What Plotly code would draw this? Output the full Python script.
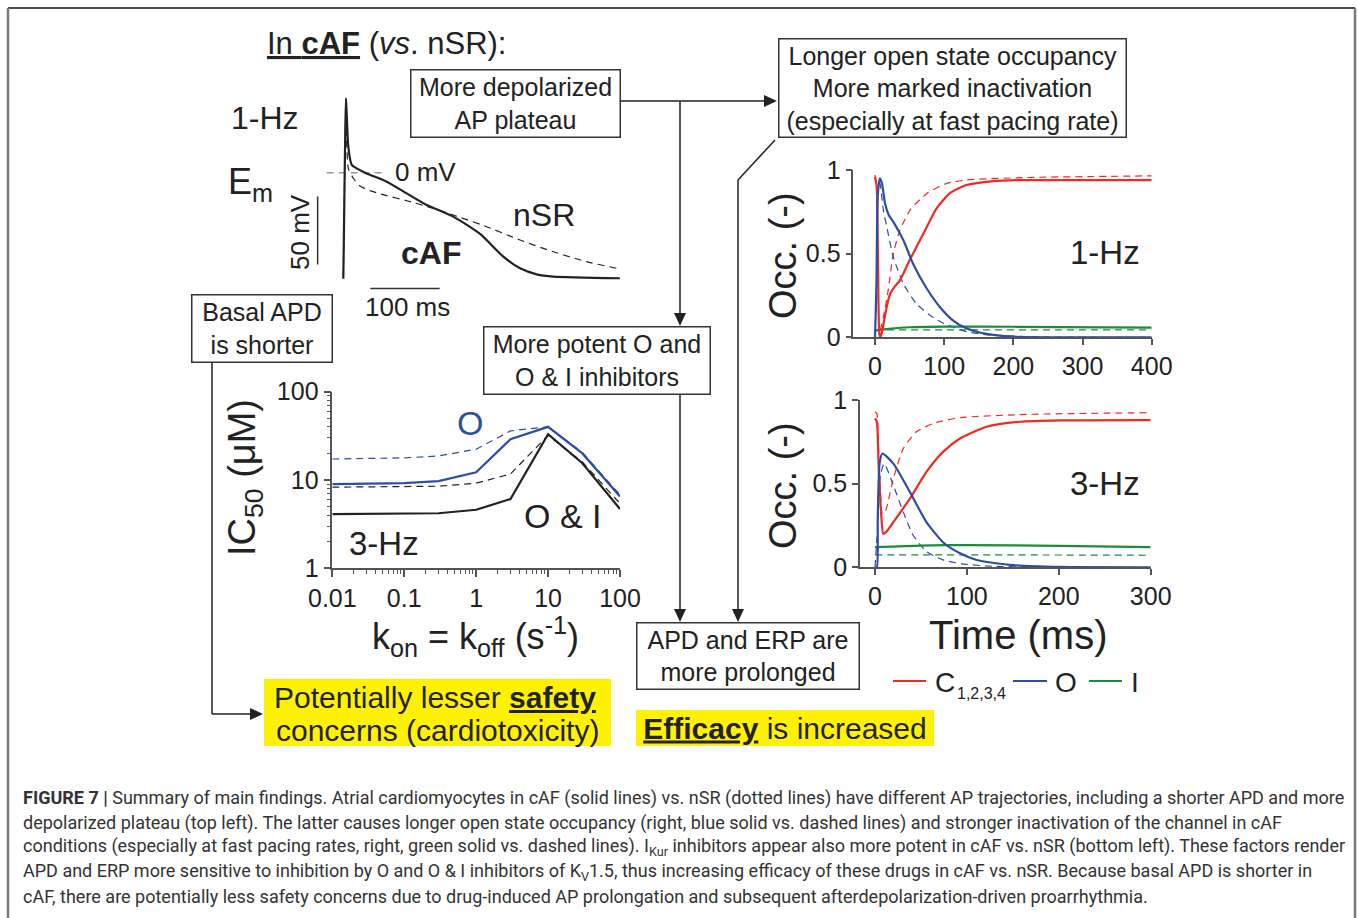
import plotly.graph_objects as go

W, H = 1358, 918
ARIAL = "Liberation Sans, Arial, Helvetica, sans-serif"
NARROW = "Liberation Sans, Arial, Helvetica, sans-serif"
CAPFONT = "Roboto, Liberation Sans, Arial, sans-serif"
INK = "#222222"
AXC = "#555555"
RED = "#ee2a24"
BLUE = "#2d4fa3"
GREEN = "#1e8a3c"

# ---------------- data: action potentials at 1 Hz (ms, mV) ----------------
ap_t_caf = [0, 1, 2, 3, 3.9, 5, 7.2, 12.1, 19.3, 33.7, 62.6, 91.5, 120.3, 158.7, 197.3, 230.9, 255, 279, 303, 399]
ap_v_caf = [-78, -40, 0, 35, 54.7, 42, 19.1, 5.7, 3.2, -0.5, -6.6, -15.2, -23.7, -32.3, -45, -61.7, -70.3, -74.7, -76.4, -77.6]
ap_t_nsr = [0, 1, 2, 3.5, 5, 7.2, 14.4, 24, 38.5, 62.6, 91.5, 130, 168.4, 207, 255, 303, 351, 394.5]
ap_v_nsr = [-76, -40, 0, 40, 20, 3.2, -4.1, -9.8, -13.2, -16.9, -20.6, -26.2, -32.8, -39.7, -49.5, -58.1, -65.4, -70.3]

# scale bars / reference line of the AP panel (data units)
bar_t_ms = [39, 139]
bar_t_ms_v = [-85.1, -85.1]
bar_mv_t = [-37, -37]
bar_mv_v = [-17.5, -67.5]
zero_t = [-24, 60]
zero_v = [0, 0]

# ---------------- data: IC50 vs kon=koff at 3 Hz ----------------
kon = [0.01, 0.1, 0.3, 1, 3, 10, 30, 100]
ic50_O_caf = [9.0, 9.2, 9.7, 12.2, 28.9, 40, 20, 6.5]
ic50_O_nsr = [17.3, 17.8, 18.7, 22.3, 36, 40, 20.5, 6.8]
ic50_OI_caf = [4.1, 4.15, 4.2, 4.6, 6.1, 33, 15.5, 4.7]
ic50_OI_nsr = [8.3, 8.4, 8.5, 9.2, 11.7, 32, 16, 5.4]

# ---------------- data: channel state occupancy, 1 Hz ----------------
t1_C_caf = [0, 2.4, 4.5, 6.3, 8, 10, 14, 19, 22, 28, 36, 50, 70, 89, 108, 132, 171, 219, 400]
o1_C_caf = [0.96, 0.9, 0.4, 0.02, 0.0, 0.03, 0.12, 0.22, 0.26, 0.3, 0.34, 0.46, 0.62, 0.77, 0.86, 0.91, 0.934, 0.94, 0.94]
t1_C_nsr = [0, 2, 4, 6, 7.2, 12, 19, 26.5, 36, 50.6, 75, 104, 132, 219, 400]
o1_C_nsr = [0.97, 0.9, 0.4, 0.06, 0.04, 0.12, 0.28, 0.5, 0.64, 0.76, 0.86, 0.92, 0.94, 0.955, 0.965]
t1_O_caf = [0, 2, 4, 7, 10, 14.5, 20, 26.5, 41, 55, 75, 94, 113, 132, 161, 200, 400]
o1_O_caf = [0.0, 0.3, 0.85, 0.95, 0.92, 0.8, 0.73, 0.69, 0.58, 0.44, 0.29, 0.18, 0.10, 0.054, 0.02, 0.004, 0.0]
t1_O_nsr = [0, 2, 4, 6, 8, 12, 17, 26.5, 41, 60, 80, 99, 132, 170, 250, 400]
o1_O_nsr = [0.0, 0.3, 0.85, 0.93, 0.9, 0.76, 0.66, 0.48, 0.32, 0.2, 0.13, 0.084, 0.034, 0.012, 0.002, 0.0]
t1_I_caf = [0, 20, 50, 100, 200, 400]
o1_I_caf = [0.04, 0.05, 0.06, 0.064, 0.063, 0.058]
t1_I_nsr = [0, 100, 400]
o1_I_nsr = [0.045, 0.044, 0.044]

# ---------------- data: channel state occupancy, 3 Hz ----------------
t3_C_caf = [0, 2, 4, 7, 9, 12, 20, 38, 56, 74, 92.5, 121.5, 158, 201, 300]
o3_C_caf = [0.89, 0.87, 0.6, 0.3, 0.2, 0.21, 0.27, 0.41, 0.57, 0.69, 0.77, 0.84, 0.87, 0.878, 0.88]
t3_C_nsr = [0, 2, 4, 6, 8, 11, 20, 30.8, 45, 63.5, 92.5, 165, 300]
o3_C_nsr = [0.93, 0.92, 0.7, 0.45, 0.32, 0.33, 0.53, 0.71, 0.81, 0.86, 0.894, 0.914, 0.924]
t3_O_caf = [0, 2, 3, 5, 8, 20, 38, 56, 74, 92.5, 110.6, 147, 201, 300]
o3_O_caf = [0.0, 0.0, 0.3, 0.62, 0.68, 0.62, 0.45, 0.27, 0.15, 0.084, 0.044, 0.014, 0.002, 0.0]
t3_O_nsr = [0, 3, 6, 10, 20, 30.8, 41.7, 56, 74, 99, 128, 200, 300]
o3_O_nsr = [0.0, 0.25, 0.55, 0.62, 0.49, 0.33, 0.19, 0.094, 0.044, 0.018, 0.006, 0.0, 0.0]
t3_I_caf = [0, 50, 100, 200, 300]
o3_I_caf = [0.12, 0.13, 0.133, 0.128, 0.12]
t3_I_nsr = [0, 150, 300]
o3_I_nsr = [0.074, 0.074, 0.072]

ic_xticks = [0.01, 0.1, 1, 10, 100]
ic_xticktext = ["0.01", "0.1", "1", "10", "100"]
ic_yticks = [1, 10, 100]
ic_yticktext = ["1", "10", "100"]
occ1_xticks = [0, 100, 200, 300, 400]
occ3_xticks = [0, 100, 200, 300]
occ_yticks = [0, 0.5, 1]
occ_yticktext = ["0", "0.5", "1"]

caption_lines = [
    "<b>FIGURE 7 |</b> Summary of main findings. Atrial cardiomyocytes in cAF (solid lines) vs. nSR (dotted lines) have different AP trajectories, including a shorter APD and more",
    "depolarized plateau (top left). The latter causes longer open state occupancy (right, blue solid vs. dashed lines) and stronger inactivation of the channel in cAF",
    "conditions (especially at fast pacing rates, right, green solid vs. dashed lines). I<sub>Kur</sub> inhibitors appear also more potent in cAF vs. nSR (bottom left). These factors render",
    "APD and ERP more sensitive to inhibition by O and O &amp; I inhibitors of K<sub>V</sub>1.5, thus increasing efficacy of these drugs in cAF vs. nSR. Because basal APD is shorter in",
    "cAF, there are potentially less safety concerns due to drug-induced AP prolongation and subsequent afterdepolarization-driven proarrhythmia.",
]


def px(x):
    return x / W


def py(y):
    return 1 - y / H


fig = go.Figure()

SOLID_W = 2.2
DASH_W = 1.2
DASH = "7px,5px"


def add(x, y, ax, color, dashed=False, width=None):
    fig.add_trace(go.Scatter(
        x=x, y=y, mode="lines", xaxis=ax[0], yaxis=ax[1], hoverinfo="skip",
        line=dict(color=color, width=width or (DASH_W if dashed else SOLID_W),
                  dash=DASH if dashed else "solid", shape="spline", smoothing=0.6)))


def add_lin(x, y, ax, color, dashed=False, width=None):
    fig.add_trace(go.Scatter(
        x=x, y=y, mode="lines", xaxis=ax[0], yaxis=ax[1], hoverinfo="skip",
        line=dict(color=color, width=width or (DASH_W if dashed else SOLID_W),
                  dash=DASH if dashed else "solid")))


# AP panel
A1 = ("x", "y")
add_lin(zero_t, zero_v, A1, "#9a9a9a", dashed=True, width=1.4)
add(ap_t_nsr, ap_v_nsr, A1, INK, dashed=True)
add(ap_t_caf, ap_v_caf, A1, INK)
add_lin(bar_t_ms, bar_t_ms_v, A1, "#333333", width=1.5)
add_lin(bar_mv_t, bar_mv_v, A1, "#333333", width=1.5)

# IC50 panel
A2 = ("x2", "y2")
add_lin(kon, ic50_OI_nsr, A2, INK, dashed=True)
add_lin(kon, ic50_O_nsr, A2, BLUE, dashed=True)
add_lin(kon, ic50_OI_caf, A2, INK)
add_lin(kon, ic50_O_caf, A2, BLUE)

# Occupancy 1 Hz
A3 = ("x3", "y3")
add(t1_I_nsr, o1_I_nsr, A3, GREEN, dashed=True)
add(t1_C_nsr, o1_C_nsr, A3, RED, dashed=True)
add(t1_O_nsr, o1_O_nsr, A3, BLUE, dashed=True)
add(t1_I_caf, o1_I_caf, A3, GREEN)
add(t1_C_caf, o1_C_caf, A3, RED)
add(t1_O_caf, o1_O_caf, A3, BLUE)

# Occupancy 3 Hz
A4 = ("x4", "y4")
add(t3_I_nsr, o3_I_nsr, A4, GREEN, dashed=True)
add(t3_C_nsr, o3_C_nsr, A4, RED, dashed=True)
add(t3_O_nsr, o3_O_nsr, A4, BLUE, dashed=True)
add(t3_I_caf, o3_I_caf, A4, GREEN)
add(t3_C_caf, o3_C_caf, A4, RED)
add(t3_O_caf, o3_O_caf, A4, BLUE)

tickfont = dict(family=ARIAL, size=25, color=INK)
axbase = dict(showline=True, linecolor=AXC, linewidth=1.5, ticks="outside", ticklen=6,
              tickwidth=1.5, tickcolor=AXC, showgrid=False, zeroline=False,
              tickfont=tickfont, fixedrange=True, automargin=False)

ic_minor_x = [k * 10 ** d for d in (-2, -1, 0, 1) for k in range(2, 10)]
ic_minor_y = [k * 10 ** d for d in (0, 1) for k in range(2, 10)]

layout = dict(
    template="none",
    width=W, height=H, autosize=False,
    margin=dict(l=0, r=0, t=0, b=0, pad=0, autoexpand=False),
    paper_bgcolor="white", plot_bgcolor="white",
    showlegend=False,
    xaxis=dict(domain=[px(300), px(640)], range=[-62.5, 428.1], visible=False, anchor="y",
               fixedrange=True, automargin=False),
    yaxis=dict(domain=[py(295), py(90)], range=[-89.9, 60.8], visible=False, anchor="x",
               fixedrange=True, automargin=False),
    xaxis2=dict(axbase, type="log", domain=[px(332.3), px(620)], range=[-2, 2], anchor="y2",
                tickmode="array", tickvals=ic_xticks, ticktext=ic_xticktext, ticklen=7,
                minor=dict(ticks="outside", ticklen=4, tickwidth=1, tickcolor=AXC,
                           tickmode="array", tickvals=ic_minor_x, showgrid=False)),
    yaxis2=dict(axbase, type="log", domain=[py(568.3), py(391.7)], range=[0, 2], anchor="x2",
                tickmode="array", tickvals=ic_yticks, ticktext=ic_yticktext, ticklen=7,
                minor=dict(ticks="outside", ticklen=4, tickwidth=1, tickcolor=AXC,
                           tickmode="array", tickvals=ic_minor_y, showgrid=False)),
    xaxis3=dict(axbase, domain=[px(853.3), px(1151.7)], range=[-31.4, 400], anchor="y3",
                tickmode="array", tickvals=occ1_xticks),
    yaxis3=dict(axbase, domain=[py(337.3), py(170)], range=[0, 1], anchor="x3",
                tickmode="array", tickvals=occ_yticks, ticktext=occ_yticktext),
    xaxis4=dict(axbase, domain=[px(860), px(1150.7)], range=[-16.3, 300], anchor="y4",
                tickmode="array", tickvals=occ3_xticks),
    yaxis4=dict(axbase, domain=[py(567.3), py(400)], range=[0, 1], anchor="x4",
                tickmode="array", tickvals=occ_yticks, ticktext=occ_yticktext),
)

shapes = []
anns = []


def line(x0, y0, x1, y1, color=INK, width=1.5):
    shapes.append(dict(type="line", xref="paper", yref="paper", x0=px(x0), y0=py(y0),
                       x1=px(x1), y1=py(y1), line=dict(color=color, width=width)))


def rect_fill(x0, y0, x1, y1, fill):
    shapes.append(dict(type="rect", xref="paper", yref="paper", x0=px(x0), y0=py(y0),
                       x1=px(x1), y1=py(y1), fillcolor=fill, line=dict(width=0), layer="below"))


def head(tx, ty, d, L=13, Wd=6):
    if d == "right":
        pts = [(tx, ty), (tx - L, ty - Wd), (tx - L, ty + Wd)]
    else:
        pts = [(tx, ty), (tx - Wd, ty - L), (tx + Wd, ty - L)]
    path = "M " + " L ".join(f"{px(a):.6f},{py(b):.6f}" for a, b in pts) + " Z"
    shapes.append(dict(type="path", xref="paper", yref="paper", path=path,
                       fillcolor=INK, line=dict(width=0)))


def txt(x, y, s, size, family=ARIAL, color=INK, xanchor="center", yanchor="middle", angle=0):
    anns.append(dict(x=px(x), y=py(y), xref="paper", yref="paper", text=s, showarrow=False,
                     font=dict(family=family, size=size, color=color),
                     xanchor=xanchor, yanchor=yanchor, textangle=angle))


def boxtxt(x0, y0, x1, y1, s, size, border=True, fill=None):
    bw = 1.5 if border else 0
    anns.append(dict(x=px((x0 + x1) / 2), y=py((y0 + y1) / 2), xref="paper", yref="paper",
                     text=s, showarrow=False, font=dict(family=NARROW if border else ARIAL,
                                                        size=size, color=INK),
                     xanchor="center", yanchor="middle", align="center", valign="middle",
                     width=(x1 - x0) - 2 * bw, height=(y1 - y0) - 2 * bw,
                     borderpad=0, borderwidth=bw, bordercolor="#333333",
                     bgcolor=fill or "rgba(0,0,0,0)"))


# outer frame
line(8, 8, 1355, 8, "#4a4a4a", 2)
line(8, 8, 8, 918, "#7a7a7a", 2.5)
line(1355, 8, 1355, 918, "#7a7a7a", 2.5)

# connectors
line(621, 101, 766, 101)
head(777, 101, "right")
line(680, 101, 680, 315)
head(680, 326, "down")
line(680, 395, 680, 611)
head(680, 622, "down")
line(775, 140, 738, 180)
line(738, 180, 738, 611)
head(738, 622, "down")
line(212, 363, 212, 714)
line(212, 714, 252, 714)
head(263, 714, "right")

# flowchart boxes (text + frame)
BS = 25
boxtxt(410, 69, 621, 138, "More depolarized<br>AP plateau", BS)
boxtxt(778, 38, 1127, 138, "Longer open state occupancy<br>More marked inactivation<br>(especially at fast pacing rate)", BS)
boxtxt(191, 294, 333, 363, "Basal APD<br>is shorter", BS)
boxtxt(483, 326, 711, 395, "More potent O and<br>O &amp; I inhibitors", BS)
boxtxt(636, 622, 860, 690, "APD and ERP are<br>more prolonged", BS)

# yellow highlighted conclusions
rect_fill(264, 679, 611, 746, "#fff200")
txt(435, 697, "Potentially lesser <b><u>safety</u></b>", 30)
txt(437, 730, "concerns (cardiotoxicity)", 30)
boxtxt(636, 710, 934, 746, "<b><u>Efficacy</u></b> is increased", 30, border=False, fill="#fff200")

# legend
line(893, 681, 926, 681, RED, 2)
line(1013, 681, 1047, 681, BLUE, 2)
line(1089, 681, 1122, 681, GREEN, 2)
txt(933, 682, "C", 28, xanchor="left")
txt(955, 693, "1,2,3,4", 16, xanchor="left")
txt(1053, 682, "O", 28, xanchor="left")
txt(1129, 682, "I", 28, xanchor="left")

# heading
txt(386, 44, "<u>In <b>cAF</b></u> (<i>vs</i>. nSR):", 31)

# AP panel labels
txt(265, 118, "1-Hz", 32)
txt(250, 184, "E<sub>m</sub>", 36)
txt(425, 172, "0 mV", 26)
txt(300, 232, "50 mV", 26, angle=-90)
txt(544, 215, "nSR", 32)
txt(431, 253, "<b>cAF</b>", 32)
txt(407, 307, "100 ms", 26)

# IC50 panel labels
txt(245, 478, "IC<sub>50</sub> (μM)", 38, angle=-90)
txt(476, 636, "k<sub>on</sub> = k<sub>off</sub> (s<sup>-1</sup>)", 36)
txt(470, 423, "O", 34, color=BLUE)
txt(562, 516, "O &amp; I", 34)
txt(384, 543, "3-Hz", 33)

# occupancy labels
txt(783, 255, "Occ. (-)", 38, angle=-90)
txt(783, 485, "Occ. (-)", 38, angle=-90)
txt(1105, 253, "1-Hz", 33)
txt(1105, 483, "3-Hz", 33)
txt(1018, 635, "Time (ms)", 40)

# caption
cap_y = [798, 823, 847, 872, 896]
for s, yy in zip(caption_lines, cap_y):
    txt(21, yy, s, 18, family=CAPFONT, color="#333333", xanchor="left")

layout["shapes"] = shapes
layout["annotations"] = anns
fig.update_layout(**layout)
fig.write_html("out.html", config={"displayModeBar": False})
